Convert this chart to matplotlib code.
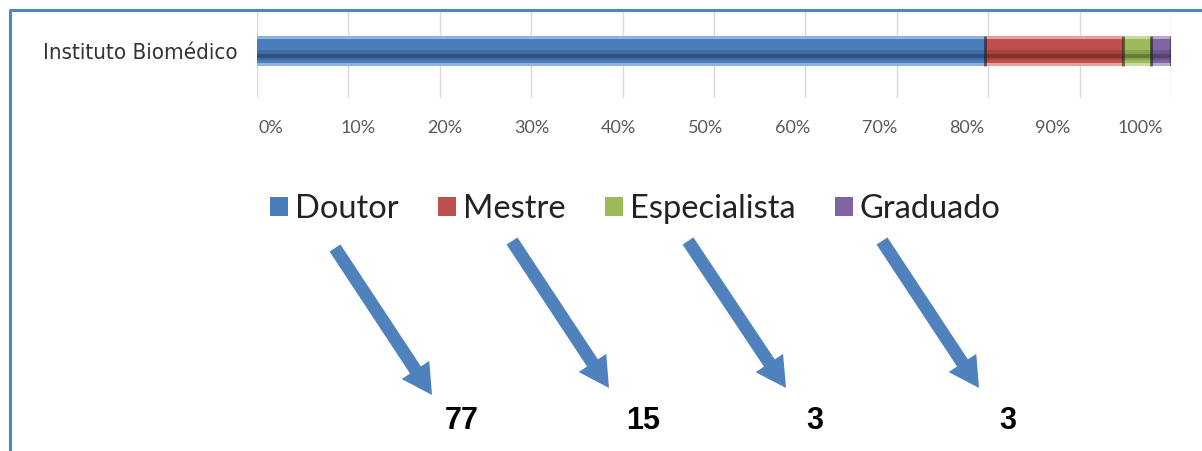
import numpy as np
import matplotlib
matplotlib.use("Agg")
import matplotlib.pyplot as plt
from matplotlib import font_manager as fm
from matplotlib.patches import Patch, FancyArrow

W, H = 1202, 451

# dados
category = ["Instituto Biomédico"]
series = ["Doutor", "Mestre", "Especialista", "Graduado"]
shares = [79.6, 15.1, 3.1, 2.2]      # % de cada segmento da barra
counts = [77, 15, 3, 3]              # números apontados pelas setas
ticks = list(range(0, 101, 10))
tick_labels = ["%d%%" % t for t in ticks]

BASE = ["#4a7ebb", "#c0504d", "#9bbb59", "#8064a2"]
MID = ["#3f6da3", "#a5433f", "#86a34c", "#6d5590"]
DARK = ["#2f5280", "#83332f", "#677d3a", "#54426f"]
LIGHT = ["#8db3e2", "#e6a09e", "#c9dc9f", "#b9a6d1"]
ARROW, FRAME = "#4f81bd", "#4a86c8"

names = {f.name for f in fm.fontManager.ttflist}
plt.rcParams["font.family"] = ["Lato", "DejaVu Sans"]
if "Liberation Sans Narrow" in names:
    cat_font = dict(family="Liberation Sans Narrow", size=19)
else:
    cat_font = dict(family="DejaVu Sans", stretch="condensed", size=16)

fx = lambda px: px / W
fy = lambda py: 1 - py / H

fig = plt.figure(figsize=(W / 100, H / 100), dpi=100)

# barra empilhada
ax = fig.add_axes([fx(257), fy(98), (1171 - 257) / W, 86 / H])
lefts = np.concatenate([[0], np.cumsum(shares)[:-1]])
ax.barh(0, shares, left=lefts, height=0.349, color=BASE, zorder=2)
ax.barh(0.157, shares, left=lefts, height=0.035, color=LIGHT, zorder=3)
ax.barh(-0.157, shares, left=lefts, height=0.035, color=LIGHT, zorder=3)
ax.barh(-0.05, shares, left=lefts, height=0.12, color=MID, zorder=3)
ax.barh(-0.055, shares, left=lefts, height=0.05, color=DARK, zorder=3)
ax.vlines(np.cumsum(shares), -0.174, 0.174, color="#1a1a1a", lw=2, alpha=0.6, zorder=4)
ax.set_xlim(0, 100)
ax.set_ylim(-0.547, 0.453)
ax.set_xticks(ticks)
ax.set_xticklabels([])
ax.grid(axis="x", color="#d9d9d9", lw=1, zorder=0)
ax.set_yticks([0])
ax.set_yticklabels(category, color="#333333", **cat_font)
ax.tick_params(length=0, pad=14)
for sp in ax.spines.values():
    sp.set_visible(False)

# rótulos do eixo (deslocados como no original)
ax2 = fig.add_axes([fx(271), fy(128), (1140 - 271) / W, 0.0001])
ax2.set_xlim(0, 100)
ax2.set_xticks(ticks)
ax2.set_xticklabels(tick_labels)
ax2.set_yticks([])
ax2.tick_params(length=0, pad=0, labelsize=13, labelcolor="#595959")
for lab in ax2.get_xticklabels():
    lab.set_va("center")
for sp in ax2.spines.values():
    sp.set_visible(False)
ax2.patch.set_visible(False)

# legenda
handles = [Patch(facecolor=c, edgecolor="none") for c in BASE]
fig.legend(handles, series, loc="center left", bbox_to_anchor=(fx(270), fy(209)),
           ncol=4, frameon=False, fontsize=23.5, borderpad=0, borderaxespad=0,
           handlelength=0.55, handleheight=0.55, handletextpad=0.22,
           columnspacing=1.2, labelcolor="#222222")

# setas, números e moldura
ov = fig.add_axes([0, 0, 1, 1])
ov.set_xlim(0, W)
ov.set_ylim(H, 0)
ov.axis("off")
tail_x = [335, 512, 688, 882]
tip_x = [432, 609, 786, 979]
tail_y = [248, 241, 241, 241]
tip_y = [395, 388, 388, 388]
num_x = [462, 643, 815, 1008]
for tx, ty, hx, hy in zip(tail_x, tail_y, tip_x, tip_y):
    ov.add_patch(FancyArrow(tx, ty, hx - tx, hy - ty, width=13, head_width=33,
                            head_length=30, length_includes_head=True,
                            color=ARROW, lw=0))
for x, n in zip(num_x, counts):
    ov.text(x, 421, str(n), ha="center", va="center", fontsize=22,
            fontweight="bold", family="Liberation Sans", color="black")
ov.plot([9, W], [10, 10], color=FRAME, lw=2.2, solid_capstyle="butt", clip_on=False)
ov.plot([10, 10], [10, H], color=FRAME, lw=2.2, solid_capstyle="butt", clip_on=False)

fig.savefig("out.png", dpi=100)
